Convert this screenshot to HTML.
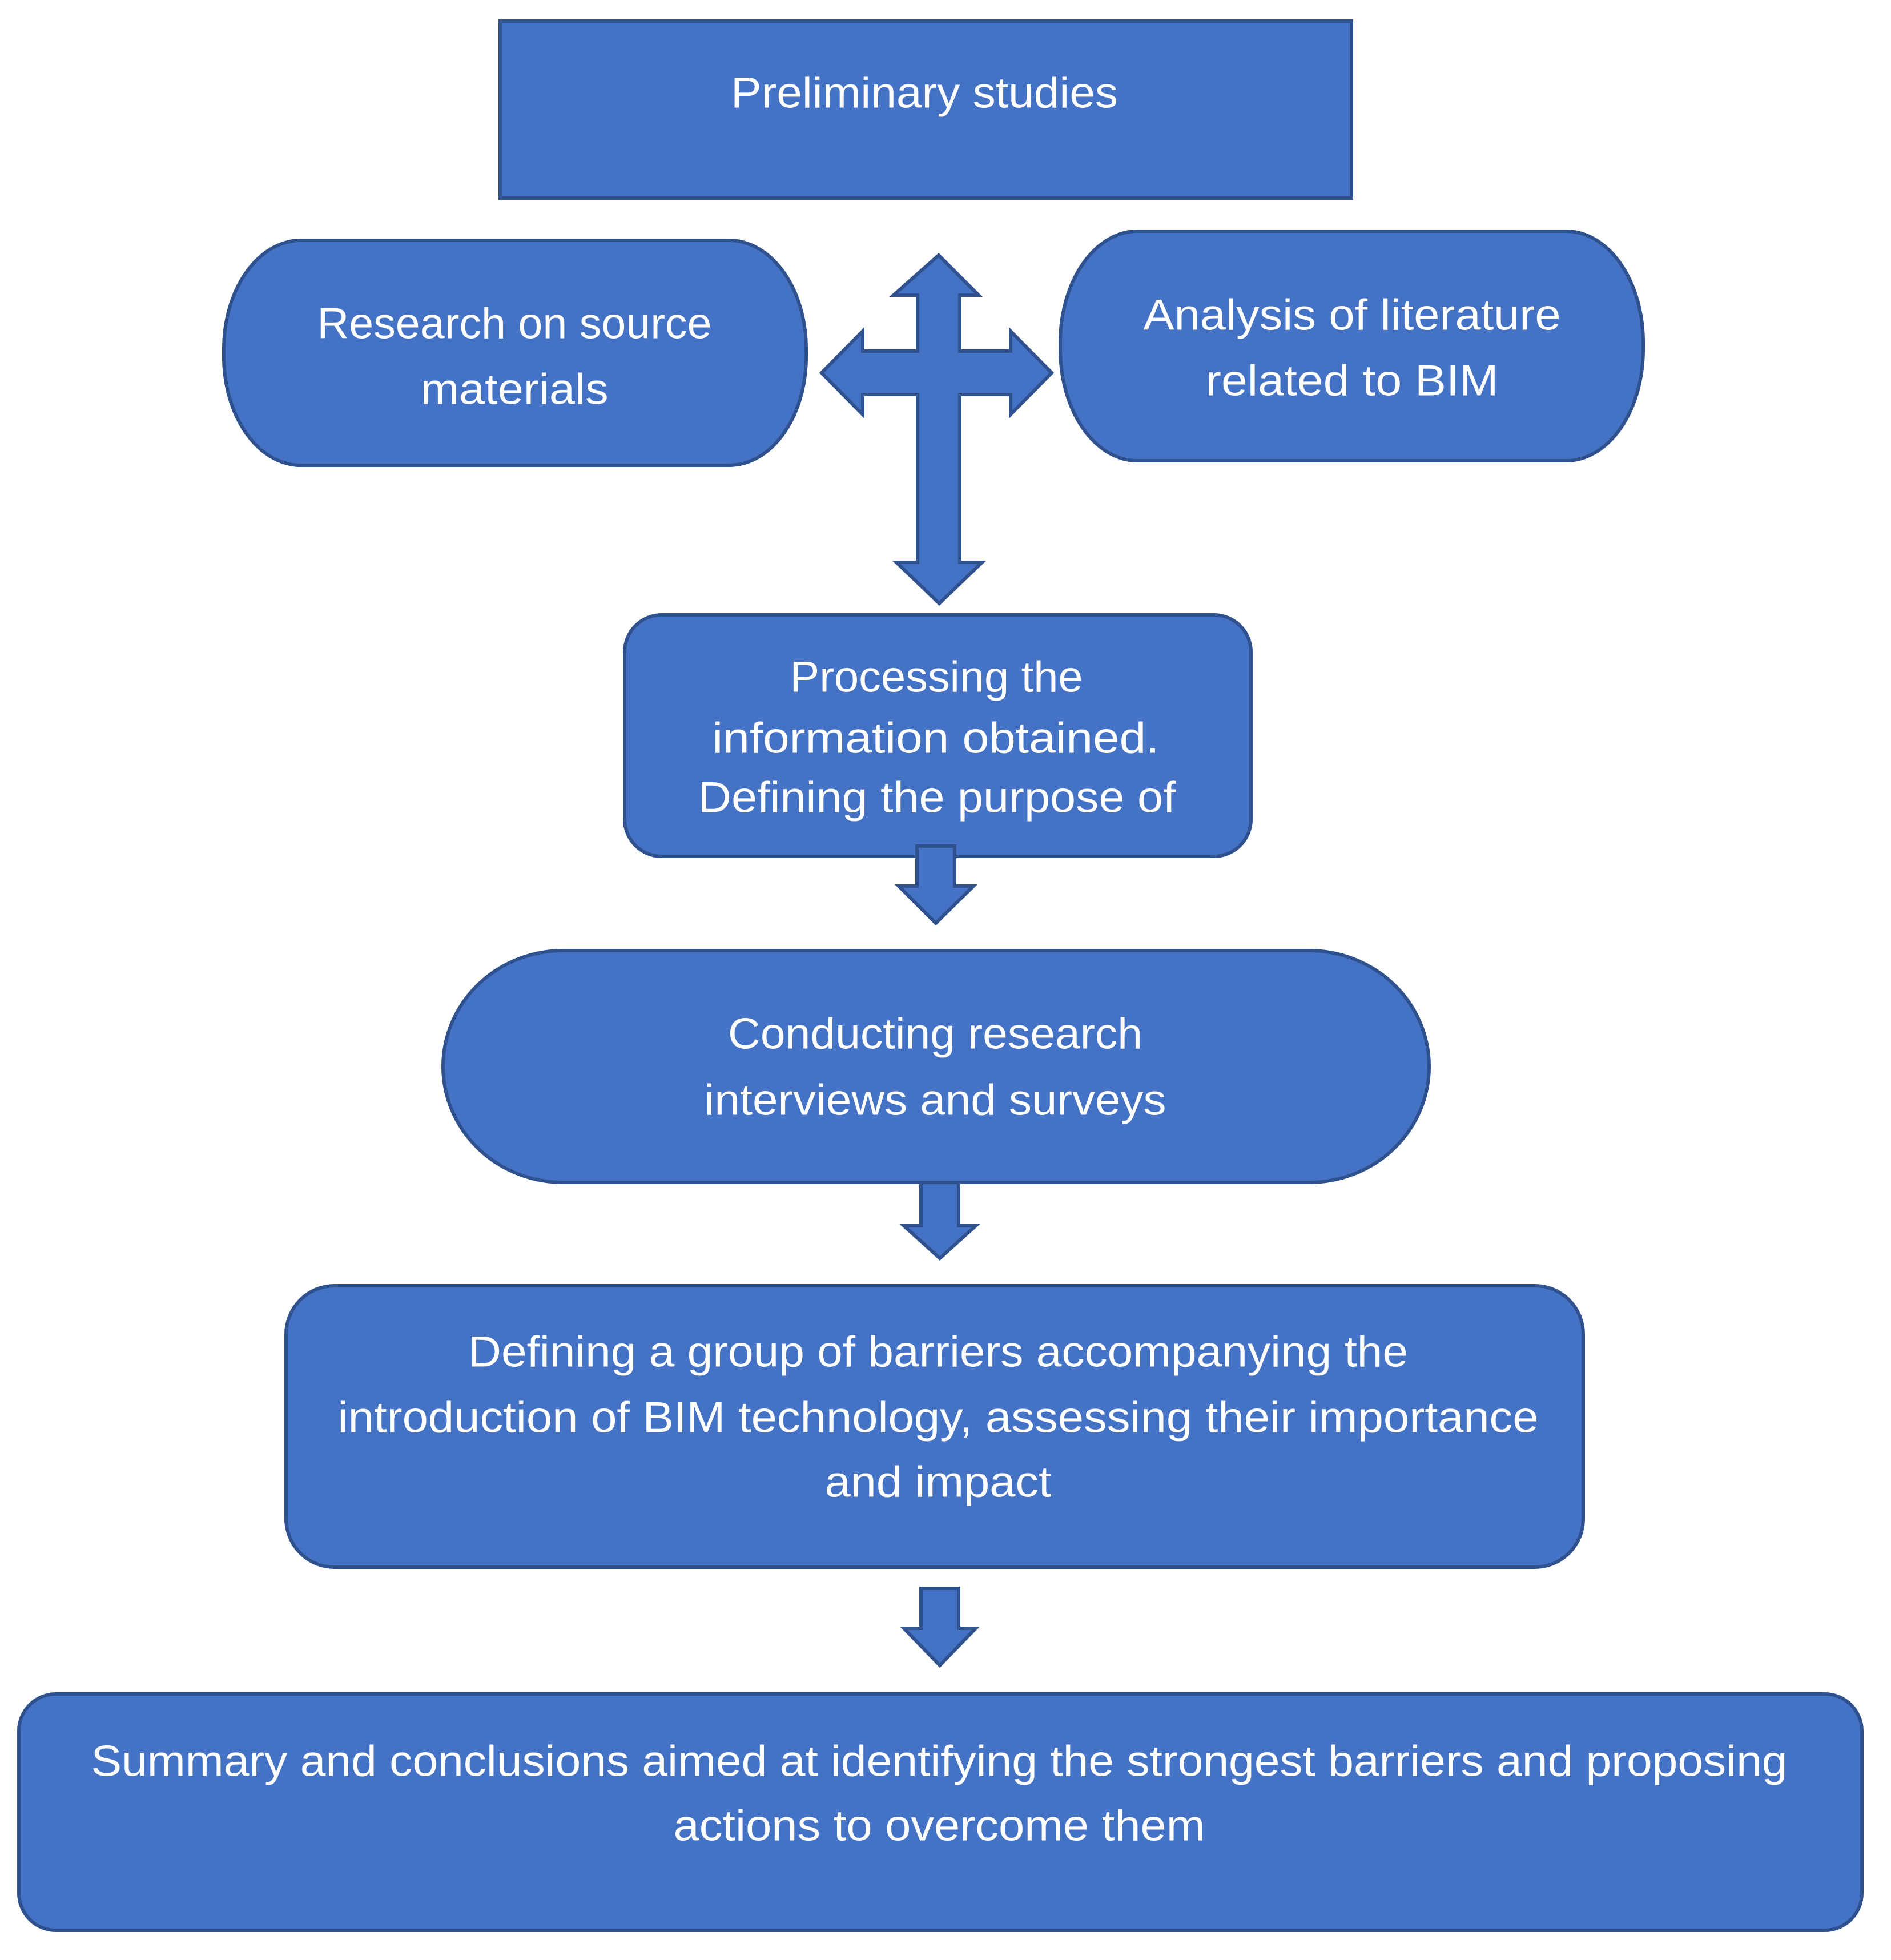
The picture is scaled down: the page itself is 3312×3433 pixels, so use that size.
<!DOCTYPE html>
<html><head><meta charset="utf-8"><style>html,body{margin:0;padding:0;background:#fff}svg{display:block}</style></head>
<body>
<svg width="3312" height="3433" viewBox="0 0 3312 3433" xmlns="http://www.w3.org/2000/svg">
<g fill="#4472C4" stroke="#2F528F" stroke-width="6">
<rect x="876" y="37" width="1491" height="310"/>
<rect x="392" y="421" width="1020" height="394" rx="135" ry="190"/>
<rect x="1857" y="405" width="1021" height="402" rx="135" ry="195"/>
<rect x="1094" y="1077" width="1097" height="423" rx="65" ry="65"/>
<rect x="776" y="1665" width="1727" height="406" rx="210" ry="203"/>
<rect x="501" y="2252" width="2272" height="493" rx="85" ry="85"/>
<rect x="33" y="2967" width="3228" height="414" rx="65" ry="65"/>
<path d="M1644 447 L1714 517 L1681 517 L1681 615 L1770 615 L1770 580 L1842 653 L1770 726 L1770 691 L1681 691 L1681 985 L1720 985 L1645 1057 L1570 985 L1607 985 L1607 691 L1511 691 L1511 726 L1439 653 L1511 580 L1511 615 L1607 615 L1607 517 L1565 517 Z"/>
<path d="M1606 1482 L1672 1482 L1672 1552 L1705 1552 L1639 1617 L1574 1552 L1606 1552 Z"/>
<path d="M1613 2071 L1679 2071 L1679 2147 L1709 2147 L1646 2204 L1583 2147 L1613 2147 Z"/>
<path d="M1613 2782 L1679 2782 L1679 2852 L1709 2852 L1646 2917 L1583 2852 L1613 2852 Z"/>
</g>
<g fill="#fff" font-family="'Liberation Sans', sans-serif" font-size="76" text-anchor="middle" dominant-baseline="central" lengthAdjust="spacingAndGlyphs">
<text x="1619" y="163" textLength="678" lengthAdjust="spacingAndGlyphs">Preliminary studies</text>
<text x="901" y="567" textLength="691" lengthAdjust="spacingAndGlyphs">Research on source</text>
<text x="901" y="682" textLength="329" lengthAdjust="spacingAndGlyphs">materials</text>
<text x="2368" y="552" textLength="731" lengthAdjust="spacingAndGlyphs">Analysis of literature</text>
<text x="2368" y="667" textLength="513" lengthAdjust="spacingAndGlyphs">related to BIM</text>
<text x="1640" y="1186" textLength="513" lengthAdjust="spacingAndGlyphs">Processing the</text>
<text x="1639" y="1293" textLength="783" lengthAdjust="spacingAndGlyphs">information obtained.</text>
<text x="1641" y="1397" textLength="837" lengthAdjust="spacingAndGlyphs">Defining the purpose of</text>
<text x="1638" y="1811" textLength="726" lengthAdjust="spacingAndGlyphs">Conducting research</text>
<text x="1638" y="1927" textLength="809" lengthAdjust="spacingAndGlyphs">interviews and surveys</text>
<text x="1643" y="2368" textLength="1646" lengthAdjust="spacingAndGlyphs">Defining a group of barriers accompanying the</text>
<text x="1643" y="2483" textLength="2103" lengthAdjust="spacingAndGlyphs">introduction of BIM technology, assessing their importance</text>
<text x="1643" y="2596" textLength="397" lengthAdjust="spacingAndGlyphs">and impact</text>
<text x="1645" y="3085" textLength="2971" lengthAdjust="spacingAndGlyphs">Summary and conclusions aimed at identifying the strongest barriers and proposing</text>
<text x="1645" y="3198" textLength="931" lengthAdjust="spacingAndGlyphs">actions to overcome them</text>
</g>
</svg>
</body></html>
